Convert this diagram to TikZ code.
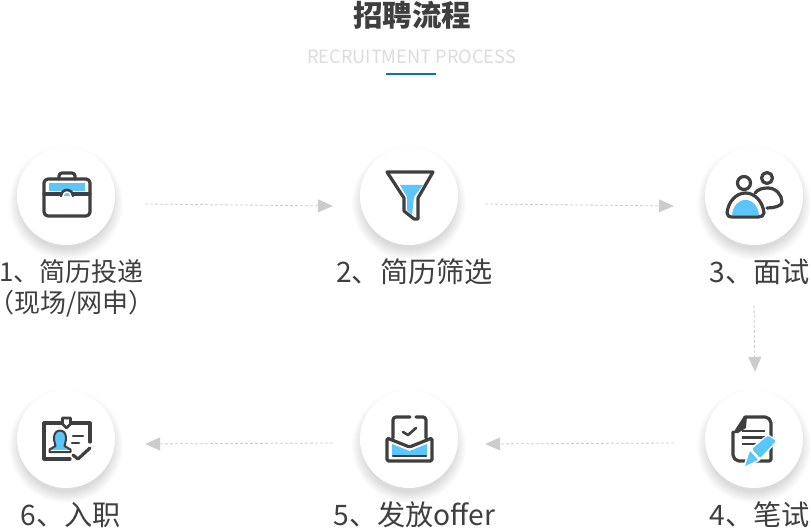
\documentclass[tikz,border=0pt]{standalone}
\usepackage{fontspec}
\setmainfont{Noto Sans CJK SC}
\usetikzlibrary{arrows.meta}
\definecolor{inkgray}{HTML}{3F3F3F}
\definecolor{skyblue}{HTML}{5CC6FA}
\definecolor{flowgray}{HTML}{CCCCCC}
\definecolor{subgray}{HTML}{DCDCDC}
\definecolor{ruleblue}{HTML}{0E6EB8}
\tikzset{
	disc/.style={circle,fill=white,minimum size=98pt,inner sep=0pt},
	flow/.style={densely dashed,flowgray,line width=.8pt,-{Triangle[length=15pt,width=13pt]}},
	caption/.style={text=inkgray,font=\fontsize{28.2}{30}\selectfont,align=center,inner sep=0pt},
	ink/.style={draw=inkgray,line width=3.2pt,line join=round,line cap=round},
	thinink/.style={draw=inkgray,line width=2.6pt,line join=round,line cap=round},
	tint/.style={fill=skyblue,draw=none}
}
\begin{document}
\begin{tikzpicture}[x=1pt,y=-1pt]
	\useasboundingbox (0,0) rectangle (811,529);
	\fill[white] (0,0) rectangle (811,529);
	% heading
	\node[inner sep=0pt,text=inkgray,font=\fontsize{29.5}{34}\selectfont\bfseries] (title) at (412,15) {招聘流程};
	\node[inner sep=0pt,text=subgray,font=\fontsize{18.2}{24}\selectfont] (subtitle) at (411.5,57) {RECRUITMENT PROCESS};
	\fill[ruleblue] (386,73) rectangle (436,75);
	% discs with their soft shadow
	\foreach \i/\x/\y in {1/66/196,2/409/196,3/754/196,4/754/439,5/409/439,6/66/439}{
		\foreach \r in {46,47,...,57}{
			\fill[black,opacity=.012] (\x,\y+7) circle (\r);
		}
		\node[disc] (c\i) at (\x,\y) {};
	}
	% captions
	\node[caption,font=\fontsize{26}{31}\selectfont] (t1) at (71.5,288) {1、简历投递\\{\addfontfeature{RawFeature=+halt}（现场/网申）}};
	\node[caption] (t2) at (414.5,272) {2、简历筛选};
	\node[caption] (t3) at (760,272) {3、面试};
	\node[caption] (t4) at (760,515) {4、笔试};
	\node[caption] (t5) at (414.5,515) {5、发放offer};
	\node[caption] (t6) at (71,515) {6、入职};
	% connectors
	\draw[flow] ([shift={(30,8)}]c1.east)--([shift={(-27,10)}]c2.west);
	\draw[flow] ([shift={(27,8)}]c2.east)--([shift={(-31,10)}]c3.west);
	\draw[flow] ([shift={(0,60)}]c3.south)--([shift={(1,-18)}]c4.north);
	\draw[flow] ([shift={(-31,4)}]c4.west)--([shift={(27,5)}]c5.east);
	\draw[flow] ([shift={(-27,4)}]c5.west)--([shift={(30,5)}]c6.east);
	% briefcase
	\draw[ink] (59,179)--(59,176) arc (180:270:3)--(72,173) arc (270:360:3)--(75,179);
	\draw[tint] (49,183) rectangle (85,191);
	\draw[ink,rounded corners=4pt] (44,179) rectangle (90,216);
	\draw[ink] (44,194)--(61,194) (73,194)--(90,194);
	\draw[thinink] (61,194)--(61,196) arc (180:360:6)--(73,194);
	\fill[skyblue] (64,196) arc (180:360:3)--cycle;
	% funnel
	\fill[skyblue] (400,185)--(423,185)--(414,197)--(412,215)--(407,210)--(407,197)--cycle;
	\draw[ink] (387,172)--(433,172)--(418,198)--(418,219)--(414,219)--(404,211)--(404,198)--cycle;
	% people
	\draw[ink] (744,183) circle (6.5);
	\draw[ink] (767,178) circle (5.5);
	\draw[ink] (755,193)..controls (758,189) and (763,188) .. (768,188)..controls (776,188) and (782,195) .. (782,202)..controls (782,206) and (774,208) .. (767,208);
	\fill[skyblue] (732,215)..controls (733,206) and (738,200) .. (745.5,200)..controls (753,200) and (758,206) .. (759,215)--cycle;
	\draw[ink] (727,213)..controls (728,202) and (736,193) .. (745.5,193)..controls (755,193) and (763,202) .. (764,213)..controls (764,216) and (761,217) .. (758,217)--(733,217)..controls (729,217) and (727,216) .. (727,213);
	% note and pen
	\draw[ink,rounded corners=2pt] (745,417)--(767,417)--(771,421)--(771,461)--(737,461)--(733,457)--(733,432);
	\fill[inkgray] (733,433)--(744,416)--(747,416)--(746,428)--(738,433)--cycle;
	\draw[thinink,line cap=butt] (742,431)--(765,431) (742,437.5)--(765,437.5) (742,444)--(757,444);
	\draw[white,fill=white,line width=3pt] (745,466)--(750,450)--(768,436)--(776,441)--(758,460)--cycle;
	\fill[skyblue,rounded corners=1.5pt] (752,449)--(768,435.5)--(776,441)--(760,458)--cycle;
	\fill[skyblue] (745,466)--(750,451)--(758,460)--cycle;
	% envelope with letter
	\draw[ink] (393,438)--(393,420) arc (180:270:3)--(410,417) (416,417)--(423,417) arc (270:360:3)--(426,438);
	\draw[thinink] (403,432)--(408,435)--(416,428);
	\fill[skyblue] (392,444)--(409.5,451)--(427,444)--(427,456)--(392,456)--cycle;
	\draw[ink,rounded corners=1.5pt] (387,438)--(409.5,447)--(432,438)--(432,461)--(387,461)--cycle;
	\draw[thinink] (393,456)--(426,456);
	% badge
	\draw[ink] (90,442)--(90,423)--(71,423) (62,423)--(44,423)--(44,459)--(70,459);
	\draw[thinink,fill=white] (62.5,418)--(70.5,418)--(70.5,424)--(66.5,428)--(62.5,424)--cycle;
	\fill[skyblue] (54,438) arc (180:360:6 and 7)--(66,446)--(71,450)--(50,450)--(54,446)--cycle;
	\draw[thinink,line width=2pt] (60,430.5)..controls (56,430.5) and (54,434) .. (54,438)..controls (54,442) and (55.5,444) .. (55.5,446)--(49.5,449.5)--(49.5,452)--(70.5,452)--(70.5,449.5)--(64.5,446)..controls (64.5,444) and (66,442) .. (66,438)..controls (66,434) and (64,430.5) .. (60,430.5);
	\draw[thinink] (73,436)--(83,436) (72,443)--(79,443);
	\draw[ink] (73,455)--(78,459)--(90,448);
\end{tikzpicture}
\end{document}
